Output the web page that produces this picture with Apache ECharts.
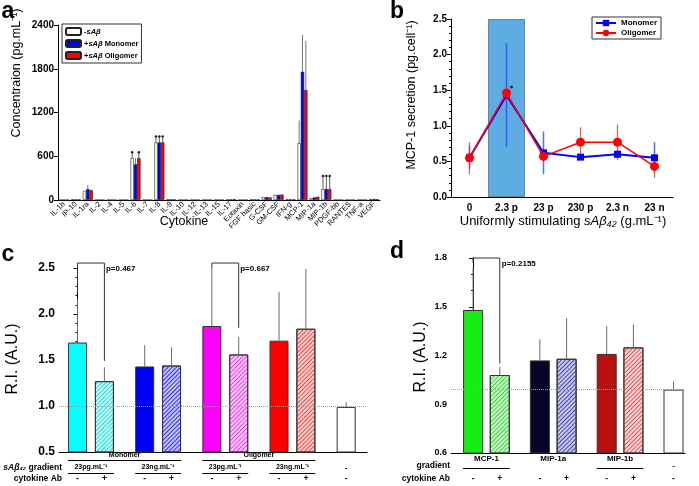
<!DOCTYPE html>
<html><head><meta charset="utf-8">
<script src="https://cdn.jsdelivr.net/npm/echarts@6/dist/echarts.min.js"></script>
<style>html,body{margin:0;padding:0;background:#fff}#c{width:699px;height:486px}</style>
</head><body><div id="c"></div>
<script>
// ---------- Panel a : cytokine concentrations ----------
const aCats = ['IL-1b','IP-10','IL-1ra','IL-2','IL-4','IL-5','IL-6','IL-7','IL-8','IL-9','IL-10','IL-12','IL-13','IL-15','IL-17','Eotaxin','FGF basic','G-CSF','GM-CSF','IFN-g','MCP-1','MIP-1a','MIP-1b','PDGF-bb','RANTES','TNF-a','VEGF'];
const aCtrl = [0,8,125,0,0,0,575,0,790,8,0,0,0,0,6,0,8,40,70,8,780,25,150,0,0,0,10];
const aMono = [0,6,150,0,0,0,490,0,790,6,0,0,0,0,8,0,6,40,70,8,1760,35,150,0,0,0,15];
const aOlig = [0,6,136,0,0,0,575,0,790,6,0,0,0,0,12,0,6,35,75,8,1510,45,150,0,0,0,10];
const aCtrlErr = {'MCP-1':1090};
const aMonoErr = {'IL-1ra':205,'IL-6':575,'MCP-1':2265};
const aOligErr = {'MCP-1':2180};
const aCtrlMark = {'IL-6':655,'IL-8':870,'MIP-1b':330};
const aMonoMark = {'IL-8':870,'MIP-1b':330};
const aOligMark = {'IL-6':655,'IL-8':870,'MIP-1b':330};
const aSeriesNames = ['-sAβ','+sAβ Monomer','+sAβ Oligomer'];

// ---------- Panel b : MCP-1 secretion ----------
const bCats = ['0','2.3 p','23 p','230 p','2.3 n','23 n'];
const bMono   = [0.55,1.43,0.62,0.56,0.60,0.55];
const bMonoLo = [0.40,0.70,0.32,0.52,0.55,0.33];
const bMonoHi = [0.72,2.16,0.92,0.60,0.66,0.77];
const bOlig   = [0.55,1.46,0.57,0.77,0.77,0.43];
const bOligLo = [0.32,1.36,0.50,0.57,0.52,0.27];
const bOligHi = [0.77,1.56,0.64,0.98,1.02,0.57];
const bHighlight = '2.3 p';
const bStar = 1.545;

// ---------- Panel c : R.I. with sAβ gradients ----------
const cVals = [1.69,1.27,1.43,1.44,1.87,1.56,1.71,1.84,0.99];
const cErr  = [2.16,1.42,1.66,1.64,2.50,1.75,2.24,2.49,1.04];
const cAb   = ['-','+','-','+','-','+','-','+','-'];
const cGrad = ['23pg.mL⁻¹','23ng.mL⁻¹','23pg.mL⁻¹','23ng.mL⁻¹'];
const cForm = ['Monomer','Oligomer'];
const cBrkTop = [2.554, 2.554];
const cBrkLeft = [2.24, 2.50];
const cBrkRight = [1.49, 1.85];
const cP = ['p=0.467','p=0.667'];

// ---------- Panel d : R.I. with cytokine gradients ----------
const dVals = [1.48,1.08,1.17,1.18,1.21,1.25,0.99];
const dErr  = [1.74,1.13,1.30,1.43,1.38,1.39,1.04];
const dAb   = ['-','+','-','+','-','+','-'];
const dGrad = ['MCP-1','MIP-1a','MIP-1b'];
const dBrkTop = [1.80];
const dBrkLeft = [1.77];
const dBrkRight = [1.15];
const dP = ['p=0.2155'];

// ================= rendering =================
const FF = '"Liberation Sans", Arial, Helvetica, sans-serif';
const chart = echarts.init(document.getElementById('c'));
const slot = i => Math.floor(i/2)*5 + (i%2)*2;   // paired bar layout

function yAx(gi, min, max, interval, fs, minorSplit, dec) {
  return {type:'value', gridIndex:gi, min, max, interval,
    axisLine:{show:true, lineStyle:{color:'#000', width:1}},
    axisTick:{show:true, length:4, lineStyle:{color:'#000'}},
    minorTick:{show:!!minorSplit, splitNumber:minorSplit||5, length:2, lineStyle:{color:'#000'}},
    splitLine:{show:false}, minorSplitLine:{show:false},
    axisLabel:{fontFamily:FF, fontSize:fs, fontWeight:'bold', color:'#000', margin:4,
      formatter: v => dec ? v.toFixed(dec) : String(Math.round(v))}};
}
function xVal(gi, min, max) {
  return {type:'value', gridIndex:gi, min, max, axisLine:{show:true, onZero:false, lineStyle:{color:'#000', width:1}},
    axisTick:{show:false}, axisLabel:{show:false}, splitLine:{show:false}};
}

// panel a error data
const aErrData = [];
[[aCtrl,aCtrlErr,aCtrlMark],[aMono,aMonoErr,aMonoMark],[aOlig,aOligErr,aOligMark]].forEach(([vals,err,mark],k)=>{
  Object.keys(err).forEach(c=>{const i=aCats.indexOf(c); aErrData.push([i, vals[i], err[c], k, 0]);});
  Object.keys(mark).forEach(c=>{const i=aCats.indexOf(c); aErrData.push([i, vals[i], mark[c], k, 1]);});
});

const cStyle = [
  {color:'#00ffff'},
  {color:'#c8ffff', decal:'#20d8d8'},
  {color:'#0000ff'},
  {color:'#c4c4ff', decal:'#3030ff'},
  {color:'#ff00ff'},
  {color:'#ffd0ff', decal:'#ff30ff'},
  {color:'#ff0000'},
  {color:'#ffd4d4', decal:'#ff4040'},
  {color:'#ffffff'}
];
const dStyle = [
  {color:'#16ec16'},
  {color:'#d4ffd4', decal:'#28d828'},
  {color:'#050528'},
  {color:'#c8c8ee', decal:'#4848a0'},
  {color:'#b80f0f'},
  {color:'#ffd8d8', decal:'#e05050'},
  {color:'#ffffff'}
];
function barItems(vals, styles) {
  return vals.map((v,i)=>{
    const s = styles[i];
    const it = {color:s.color, borderColor:'#333', borderWidth:1};
    if (s.decal) it.decal = {symbol:'rect', symbolSize:1, dashArrayX:[1,0], dashArrayY:[0.8,1.2], rotation:-Math.PI/4, color:s.decal};
    return {value:[slot(i), v], itemStyle:it};
  });
}
const whisker = (xi, yi) => ({
  type:'custom', xAxisIndex:xi, yAxisIndex:yi, silent:true, z:3, encode:{x:0, y:[1,2]},
  renderItem:(p, api)=>{
    const a = api.coord([api.value(0), api.value(1)]), b = api.coord([api.value(0), api.value(2)]);
    return {type:'line', shape:{x1:a[0], y1:a[1], x2:b[0], y2:b[1]}, style:{stroke:'#6a6a6a', lineWidth:1}};
  }
});
const bErrSeries = (lo, hi, color, w, z) => ({
  type:'custom', xAxisIndex:1, yAxisIndex:1, silent:true, z, encode:{x:0, y:[1,2]},
  data: lo.map((l,i)=>[i, l, hi[i]]),
  renderItem:(p, api)=>{
    const a = api.coord([api.value(0), api.value(1)]), b = api.coord([api.value(0), api.value(2)]);
    return {type:'line', shape:{x1:a[0], y1:a[1], x2:b[0], y2:b[1]}, style:{stroke:color, lineWidth:w}};
  }
});

const option = {
  animation:false,
  backgroundColor:'#fff',
  textStyle:{fontFamily:FF},
  grid:[
    {left:58, top:25, width:322, height:175},
    {left:451, top:19, width:222, height:178},
    {left:59, top:268, width:308, height:184},
    {left:451, top:258, width:234, height:195}
  ],
  legend:[
    {left:62, top:24, orient:'vertical', data:aSeriesNames, itemWidth:15, itemHeight:7, itemGap:3,
     padding:[3,3,3,3], borderColor:'#333', borderWidth:1, selectedMode:false,
     textStyle:{fontFamily:FF, fontSize:7.5, fontWeight:'bold', color:'#000', padding:[0,0,0,-2],
       rich:{i:{fontStyle:'italic', fontSize:7.5, fontWeight:'bold', fontFamily:FF, color:'#000'}}},
     formatter: n => n.replace('sAβ','{i|sAβ}')},
    {left:592, top:17, orient:'vertical', data:['Monomer','Oligomer'], itemWidth:20, itemHeight:8, itemGap:2,
     padding:[2,4,2,3], borderColor:'#333', borderWidth:1, selectedMode:false,
     textStyle:{fontFamily:FF, fontSize:8, fontWeight:'bold', color:'#000'}}
  ],
  xAxis:[
    {type:'category', gridIndex:0, data:aCats, axisLine:{lineStyle:{color:'#000'}}, axisTick:{show:false},
     axisLabel:{rotate:45, interval:0, fontSize:7.5, fontFamily:FF, color:'#000', margin:3}},
    {type:'category', gridIndex:1, data:bCats, axisLine:{lineStyle:{color:'#000'}},
     axisTick:{alignWithLabel:true, length:4, lineStyle:{color:'#000'}},
     axisLabel:{fontSize:10, fontWeight:'bold', fontFamily:FF, color:'#000', margin:6}},
    xVal(2, -1.38, 21.55),
    xVal(3, -1.65, 15.86)
  ],
  yAxis:[
    yAx(0, 0, 2400, 600, 10, 0, 0),
    yAx(1, 0, 2.5, 0.5, 10, 5, 1),
    yAx(2, 0.5, 2.5, 0.5, 12, 5, 1),
    yAx(3, 0.6, 1.8, 0.3, 9, 3, 1)
  ],
  series:[
    // panel a
    {type:'bar', name:aSeriesNames[0], xAxisIndex:0, yAxisIndex:0, data:aCtrl, barGap:'0%', barCategoryGap:'16%',
     itemStyle:{color:'#ffffff', borderColor:'#222', borderWidth:0.6}},
    {type:'bar', name:aSeriesNames[1], xAxisIndex:0, yAxisIndex:0, data:aMono, barGap:'0%', barCategoryGap:'16%',
     itemStyle:{color:'#0000ff', borderColor:'#222', borderWidth:0.6}},
    {type:'bar', name:aSeriesNames[2], xAxisIndex:0, yAxisIndex:0, data:aOlig, barGap:'0%', barCategoryGap:'16%',
     itemStyle:{color:'#ff0000', borderColor:'#222', borderWidth:0.6}},
    {type:'custom', xAxisIndex:0, yAxisIndex:0, silent:true, z:3, encode:{x:0, y:[1,2]}, data:aErrData,
     renderItem:(p, api)=>{
       const i=api.value(0), v=api.value(1), e=api.value(2), k=api.value(3), dot=api.value(4);
       const bw = api.size([1,0])[0]*0.84/3;
       const a = api.coord([i, v]), b = api.coord([i, e]);
       const x = a[0] + (k-1)*bw;
       const ch = [{type:'line', shape:{x1:x, y1:a[1], x2:x, y2:b[1]}, style:{stroke: dot?'#333':'#777', lineWidth: dot?0.8:1}}];
       if (dot) ch.push({type:'circle', shape:{cx:x, cy:b[1], r:1.3}, style:{fill:'#222'}});
       return {type:'group', children:ch};
     }},
    // panel b
    {type:'bar', name:'highlight', xAxisIndex:1, yAxisIndex:1, silent:true, z:1, barWidth:'100%',
     data: bCats.map(c => c===bHighlight ? 2.5 : null),
     itemStyle:{color:'#5dade2', borderColor:'#333', borderType:'dotted', borderWidth:1}},
    bErrSeries(bMonoLo, bMonoHi, 'rgba(40,70,255,0.8)', 1.5, 3),
    bErrSeries(bOligLo, bOligHi, 'rgba(255,40,40,0.8)', 1.2, 3),
    {type:'line', name:'Monomer', xAxisIndex:1, yAxisIndex:1, data:bMono, symbol:'rect', symbolSize:7, z:4,
     lineStyle:{color:'#0000ff', width:2}, itemStyle:{color:'#0000ff'}},
    {type:'line', name:'Oligomer', xAxisIndex:1, yAxisIndex:1, data:bOlig, symbol:'circle', symbolSize:9, z:5,
     lineStyle:{color:'#ff0000', width:1.5}, itemStyle:{color:'#ff0000'},
     markPoint:{silent:true, symbol:'circle', symbolSize:2.5, label:{show:false}, itemStyle:{color:'#000'},
       data:[{coord:[bHighlight, bStar], symbolOffset:[5,0]}]}},
    // panel c
    {type:'line', xAxisIndex:2, yAxisIndex:2, data:[], z:1, silent:true,
     markLine:{silent:true, symbol:'none', label:{show:false}, lineStyle:{type:'dotted', color:'#999', width:1}, data:[{yAxis:1.0}]}},
    {type:'bar', name:'c', xAxisIndex:2, yAxisIndex:2, barWidth:19, z:2, data:barItems(cVals, cStyle)},
    Object.assign(whisker(2,2), {data: cVals.map((v,i)=>[slot(i), v, cErr[i]])}),
    // panel d
    {type:'line', xAxisIndex:3, yAxisIndex:3, data:[], z:1, silent:true,
     markLine:{silent:true, symbol:'none', label:{show:false}, lineStyle:{type:'dotted', color:'#999', width:1}, data:[{yAxis:0.99}]}},
    {type:'bar', name:'d', xAxisIndex:3, yAxisIndex:3, barWidth:20, z:2, data:barItems(dVals, dStyle)},
    Object.assign(whisker(3,3), {data: dVals.map((v,i)=>[slot(i), v, dErr[i]])})
  ]
};
chart.setOption(option);

// ---------- text / annotation layer (positions from library scales) ----------
const gfx = [];
function T(x, y, text, o) {
  o = o || {};
  const st = {text, fill:'#000', fontFamily:FF, fontSize:o.fs||10, fontWeight:o.fw||'normal',
    align:o.align||'center', verticalAlign:o.va||'middle'};
  if (o.rich) st.rich = o.rich;
  gfx.push({type:'text', x, y, rotation:o.rot||0, z:10, silent:true, style:st});
}
function L(x1, y1, x2, y2, o) {
  o = o || {};
  gfx.push({type:'line', z:10, silent:true, shape:{x1,y1,x2,y2}, style:{stroke:o.c||'#000', lineWidth:o.w||1}});
}
const px = (ai, x, y) => chart.convertToPixel({xAxisIndex:ai, yAxisIndex:ai}, [x, y]);

// panel letters
T(8, 12, 'a', {fs:23, fw:'bold'});
T(397, 12, 'b', {fs:23, fw:'bold'});
T(8, 255, 'c', {fs:23, fw:'bold'});
T(397, 252, 'd', {fs:23, fw:'bold'});

// axis names
T(17, 73, 'Concentraion (pg.mL⁻¹)', {fs:12.5, rot:Math.PI/2});
T(184, 222, 'Cytokine', {fs:12.5});
T(412, 95, 'MCP-1 secretion (pg.cell⁻¹)', {fs:12.5, rot:Math.PI/2});
T(563, 221, 'Uniformly stimulating {i|sAβ₄₂} (g.mL⁻¹)', {fs:13,
  rich:{i:{fontStyle:'italic', fontSize:13, fontFamily:FF}}});
T(13, 359, 'R.I. (A.U.)', {fs:16, rot:Math.PI/2});
T(421, 357, 'R.I. (A.U.)', {fs:16, rot:Math.PI/2});

// panel c annotations
const hb = 9.5;
const cx = i => px(2, slot(i), 1)[0];
cForm.forEach((t,g)=>{
  const x0 = cx(g*4) - hb, x1 = cx(g*4+3) + hb;
  T((x0+x1)/2, 455, t, {fs:7, fw:'bold'});
  L(x0, 460.5, x1, 460.5);
});
cGrad.forEach((t,j)=>{
  const x0 = cx(2*j) - hb, x1 = cx(2*j+1) + hb;
  T((x0+x1)/2, 467.5, t, {fs:7, fw:'bold'});
  L(x0, 473.5, x1, 473.5);
});
T(cx(cVals.length-1), 468, '-', {fs:8, fw:'bold'});
cAb.forEach((s,i)=>T(cx(i), 479, s, {fs:8.5, fw:'bold'}));
T(62, 468, '{i|sAβ₄₂} gradient', {fs:8.5, fw:'bold', align:'right',
  rich:{i:{fontStyle:'italic', fontWeight:'bold', fontSize:8.5, fontFamily:FF}}});
T(62, 479, 'cytokine Ab', {fs:8.5, fw:'bold', align:'right'});
cP.forEach((p,b)=>{
  const l = cx(b*4), r = cx(b*4+1);
  const yt = px(2, 0, cBrkTop[b])[1], yl = px(2, 0, cBrkLeft[b])[1], yr = px(2, 0, cBrkRight[b])[1];
  L(l, yl, l, yt, {c:'#333'}); L(l, yt, r, yt, {c:'#333'}); L(r, yt, r, yr, {c:'#333'});
  T(r+1.5, yt+6, p, {fs:8, fw:'bold', align:'left'});
});

// panel d annotations
const hbd = 10;
const dx = i => px(3, slot(i), 1)[0];
dGrad.forEach((t,j)=>{
  const x0 = dx(2*j) - hbd, x1 = dx(2*j+1) + hbd;
  T((x0+x1)/2, 459, t, {fs:8, fw:'bold'});
  if (j !== 1) L(x0, 468.5, x1, 468.5);
});
T(dx(dVals.length-1), 466, '-', {fs:8, fw:'bold'});
dAb.forEach((s,i)=>T(dx(i), 479, s, {fs:8.5, fw:'bold'}));
T(450, 466, 'gradient', {fs:8.5, fw:'bold', align:'right'});
T(450, 479, 'cytokine Ab', {fs:8.5, fw:'bold', align:'right'});
dP.forEach((p,b)=>{
  const l = dx(b*2), r = dx(b*2+1);
  const yt = px(3, 0, dBrkTop[b])[1], yl = px(3, 0, dBrkLeft[b])[1], yr = px(3, 0, dBrkRight[b])[1];
  L(l, yl, l, yt, {c:'#333'}); L(l, yt, r, yt, {c:'#333'}); L(r, yt, r, yr, {c:'#333'});
  T(r+2, yt+6, p, {fs:8, fw:'bold', align:'left'});
});

chart.setOption({graphic: gfx});
</script>
</body></html>
